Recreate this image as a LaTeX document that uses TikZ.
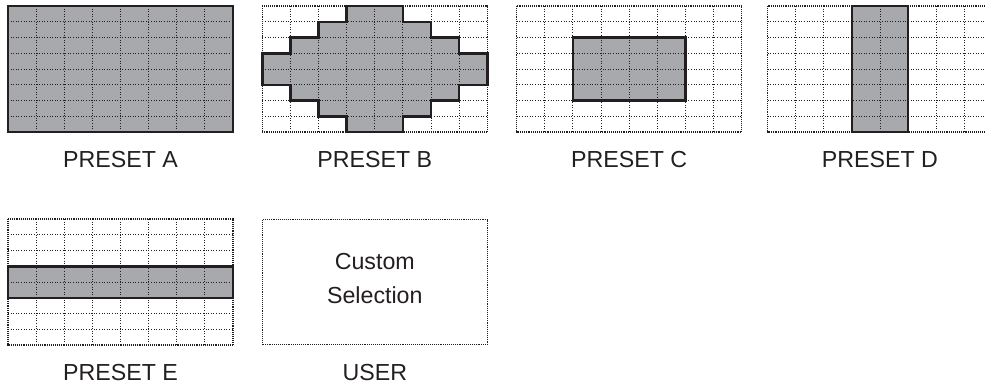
\documentclass[tikz,border=0pt]{standalone}
\usepackage{fontspec}
\setmainfont{Liberation Sans}
\definecolor{selgray}{HTML}{A7A9AC}
\definecolor{ink}{HTML}{231F20}
\tikzset{
  gridline/.style={line width=1pt, dash pattern=on 1pt off 1.6pt, ink},
  framedot/.style={line width=1.1pt, dash pattern=on 1pt off 0.9pt, ink},
  selarea/.style={draw=ink, line width=2.5pt, fill=selgray, line join=miter},
  lbl/.style={font=\fontsize{23.2}{27}\selectfont, text=ink, inner sep=0pt, anchor=base},
  cell/.style={x=28.125pt, y=-15.75pt}
}
\newcommand\gridlines{%
  \foreach \i in {1,...,7} {\draw[gridline] (\i,0) -- (\i,8);}
  \foreach \j in {1,...,7} {\draw[gridline] (0,\j) -- (8,\j);}
}
\begin{document}
\begin{tikzpicture}[x=1pt, y=-1pt]
\useasboundingbox (0,0) rectangle (985,384);
\clip (0,0) rectangle (985,384);

% PRESET A
\begin{scope}[shift={(8pt,-6pt)}, cell]
  \fill[selgray] (0,0) rectangle (8,8);
  \gridlines
  \draw[selarea, fill=none] (0,0) rectangle (8,8);
\end{scope}
\node[lbl] (la) at (120.5,167.7) {PRESET A};

% PRESET B
\begin{scope}[shift={(262.3pt,-6pt)}, cell]
  \draw[framedot] (0,0) rectangle (8,8);
  \fill[selgray] (3,0) -- (5,0) -- (5,1) -- (6,1) -- (6,2) -- (7,2) -- (7,3) -- (8,3) -- (8,5) -- (7,5) -- (7,6) -- (6,6) -- (6,7) -- (5,7) -- (5,8) -- (3,8) -- (3,7) -- (2,7) -- (2,6) -- (1,6) -- (1,5) -- (0,5) -- (0,3) -- (1,3) -- (1,2) -- (2,2) -- (2,1) -- (3,1) -- cycle;
  \gridlines
  \draw[selarea, fill=none] (3,0) -- (5,0) -- (5,1) -- (6,1) -- (6,2) -- (7,2) -- (7,3) -- (8,3) -- (8,5) -- (7,5) -- (7,6) -- (6,6) -- (6,7) -- (5,7) -- (5,8) -- (3,8) -- (3,7) -- (2,7) -- (2,6) -- (1,6) -- (1,5) -- (0,5) -- (0,3) -- (1,3) -- (1,2) -- (2,2) -- (2,1) -- (3,1) -- cycle;
\end{scope}
\node[lbl] (lb) at (374.8,167.7) {PRESET B};

% PRESET C
\begin{scope}[shift={(516.7pt,-6pt)}, cell]
  \draw[framedot] (0,0) rectangle (8,8);
  \fill[selgray] (2,2) rectangle (6,6);
  \gridlines
  \draw[selarea, fill=none] (2,2) rectangle (6,6);
\end{scope}
\node[lbl] (lc) at (629.2,167.7) {PRESET C};

% PRESET D
\begin{scope}[shift={(767.5pt,-6pt)}, cell]
  \draw[framedot] (0,0) rectangle (8,8);
  \fill[selgray] (3,0) rectangle (5,8);
  \gridlines
  \draw[selarea, fill=none] (3,0) rectangle (5,8);
\end{scope}
\node[lbl] (ld) at (880,167.7) {PRESET D};

% PRESET E
\begin{scope}[shift={(8pt,-219pt)}, cell]
  \draw[framedot] (0,0) rectangle (8,8);
  \fill[selgray] (0,3) rectangle (8,5);
  \gridlines
  \draw[selarea, fill=none] (0,3) rectangle (8,5);
\end{scope}
\node[lbl] (le) at (120.5,380) {PRESET E};

% USER
\node[framedot, draw, minimum width=225pt, minimum height=125pt, inner sep=0pt, anchor=north west] (user) at (262.3,219) {};
\node[lbl] (cust1) at (374.8,269.3) {Custom};
\node[lbl] (cust2) at (374.8,303.3) {Selection};
\node[lbl] (lu) at (374.8,380) {USER};
\end{tikzpicture}
\end{document}
